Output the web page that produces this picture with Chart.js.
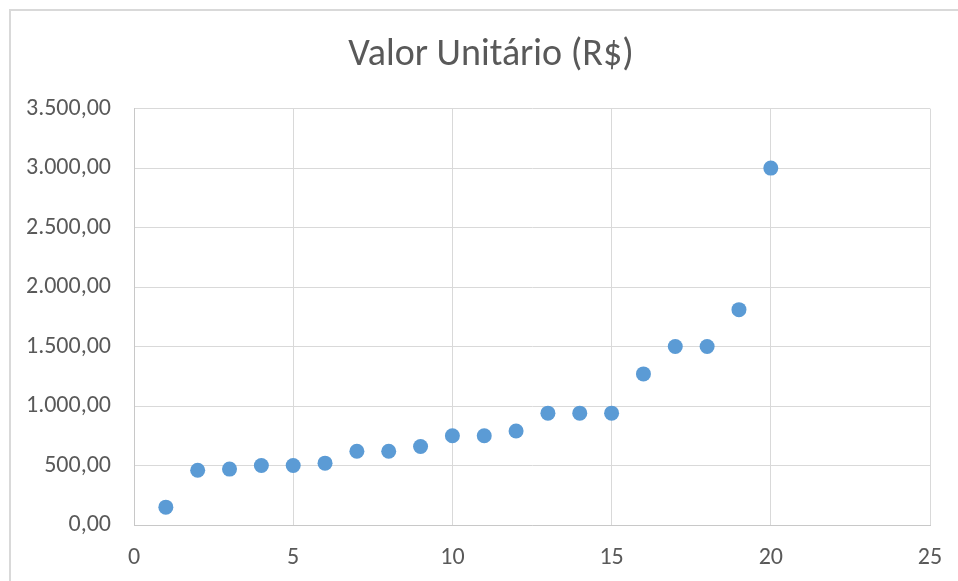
<!DOCTYPE html>
<html>
<head>
<meta charset="utf-8">
<script src="https://cdn.jsdelivr.net/npm/chart.js@4"></script>
<style>
  html, body { margin: 0; padding: 0; background: #fff; }
  #wrap { width: 958px; height: 581px; }
</style>
</head>
<body>
<div id="wrap"><canvas id="chart" width="958" height="581"></canvas></div>
<script>
const xValues = [1, 2, 3, 4, 5, 6, 7, 8, 9, 10, 11, 12, 13, 14, 15, 16, 17, 18, 19, 20];
const yValues = [150, 460, 470, 500, 500, 520, 620, 620, 660, 750, 750, 790, 940, 940, 940, 1270, 1500, 1500, 1810, 3000];
const xTicks = [0, 5, 10, 15, 20, 25];
const yTicks = [0, 500, 1000, 1500, 2000, 2500, 3000, 3500];

const FONT = 'Carlito, Lato, sans-serif';

function formatBR(v) {
  const parts = Number(v).toFixed(2).split('.');
  const int = parts[0].replace(/\B(?=(\d{3})+(?!\d))/g, '.');
  return int + ',' + parts[1];
}

// light frame of the chart object, running off the right and bottom edges
const outerBorder = {
  id: 'outerBorder',
  beforeDraw(chart) {
    const ctx = chart.ctx;
    ctx.save();
    ctx.strokeStyle = '#D9D9D9';
    ctx.lineWidth = 2;
    ctx.strokeRect(10, 10, chart.width + 20, chart.height + 20);
    ctx.restore();
  },
};

// excel centres the title on the whole frame, not on the plot
const titleShift = {
  id: 'titleShift',
  afterLayout(chart) {
    if (chart.titleBlock) chart.titleBlock.left = 52;
  },
};

new Chart(document.getElementById('chart'), {
  type: 'scatter',
  data: {
    datasets: [
      {
        label: 'Valor Unitário (R$)',
        data: xValues.map((x, i) => ({ x, y: yValues[i] })),
        backgroundColor: '#5B9BD5',
        borderColor: '#5B9BD5',
        borderWidth: 0,
        pointRadius: 7.5,
      },
    ],
  },
  options: {
    responsive: false,
    animation: false,
    layout: { padding: { left: 0, right: 28, top: 0, bottom: 0 } },
    plugins: {
      legend: { display: false },
      tooltip: { enabled: false },
      title: {
        display: true,
        text: 'Valor Unitário (R$)',
        color: '#595959',
        font: { family: FONT, size: 38, weight: 'normal' },
        padding: { top: 33, bottom: 30 },
      },
    },
    scales: {
      x: {
        type: 'linear',
        min: 0,
        max: 25,
        afterBuildTicks: (s) => { s.ticks = xTicks.map((v) => ({ value: v })); },
        afterFit: (s) => { s.height = 56; s.paddingLeft = 0; s.paddingRight = 0; },
        ticks: { color: '#595959', font: { family: FONT, size: 24 }, padding: 19 },
        grid: { color: '#D9D9D9', lineWidth: 1, tickLength: 0 },
        border: { color: '#C8C8C8', width: 1 },
      },
      y: {
        min: 0,
        max: 3500,
        afterBuildTicks: (s) => { s.ticks = yTicks.map((v) => ({ value: v })); },
        afterFit: (s) => { s.width = 134; s.paddingTop = 0; s.paddingBottom = 0; },
        ticks: { color: '#595959', font: { family: FONT, size: 24 }, padding: 23, callback: (v) => formatBR(v) },
        grid: { color: '#D9D9D9', lineWidth: 1, tickLength: 0 },
        border: { color: '#C8C8C8', width: 1 },
      },
    },
  },
  plugins: [outerBorder, titleShift],
});
</script>
</body>
</html>
